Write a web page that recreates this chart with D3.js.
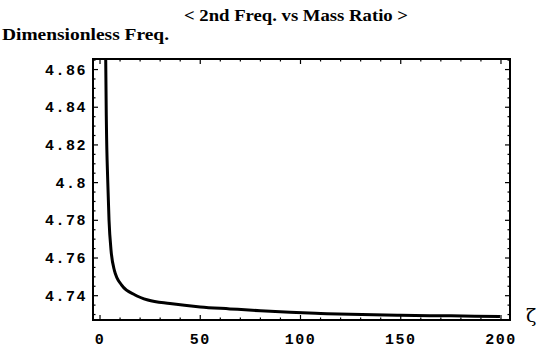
<!DOCTYPE html>
<html>
<head>
<meta charset="utf-8">
<script src="https://cdn.jsdelivr.net/npm/d3@7"></script>
<style>
  body { margin: 0; background: #fff; }
  svg { display: block; }
</style>
</head>
<body>
<div id="chart"></div>
<script>

// values
var massRatio = [2.6, 2.84, 3.2, 3.84, 4.49, 5.49, 7.13, 10.8, 17.5, 23.9, 34.9, 50, 64.8, 80, 94.8, 110, 124.7, 150, 175, 199.5];
var freq      = [4.92, 4.8656, 4.83, 4.8014, 4.7802, 4.7642, 4.7536, 4.7456, 4.7404, 4.7377, 4.7358, 4.7340, 4.7330, 4.7320, 4.7312, 4.7306, 4.7301, 4.7296, 4.7293, 4.7290];

var xTicks = [0, 50, 100, 150, 200];
var yTicks = [4.74, 4.76, 4.78, 4.8, 4.82, 4.84, 4.86];

var svgWidth = 537, svgHeight = 354;
var plotLeft = 93, plotRight = 510, plotTop = 59, plotBottom = 320;

var svg = d3.select("#chart").append("svg")
  .attr("width", svgWidth)
  .attr("height", svgHeight);

var x = d3.scaleLinear().domain([-3.5, 204.5]).range([plotLeft, plotRight]);
var y = d3.scaleLinear().domain([4.7271, 4.8656]).range([plotBottom, plotTop]);

// title and axis labels
svg.append("text")
  .attr("x", 296).attr("y", 21)
  .attr("text-anchor", "middle")
  .style("font", "bold 17px 'Liberation Serif'")
  .attr("textLength", 224)
  .attr("lengthAdjust", "spacingAndGlyphs")
  .text("< 2nd Freq. vs Mass Ratio >");

svg.append("text")
  .attr("x", 2).attr("y", 40)
  .style("font", "bold 17px 'Liberation Serif'")
  .attr("textLength", 167)
  .attr("lengthAdjust", "spacingAndGlyphs")
  .text("Dimensionless Freq.");

svg.append("text")
  .attr("x", 526).attr("y", 322)
  .style("font", "19px 'DejaVu Serif'")
  .text("ζ");

// curve, clipped to the frame
svg.append("clipPath").attr("id", "clip")
  .append("rect")
  .attr("x", plotLeft).attr("y", plotTop)
  .attr("width", plotRight - plotLeft).attr("height", plotBottom - plotTop);

var line = d3.line()
  .x(function(d, i) { return x(massRatio[i]); })
  .y(function(d) { return y(d); })
  .curve(d3.curveMonotoneX);

svg.append("path")
  .datum(freq)
  .attr("clip-path", "url(#clip)")
  .attr("fill", "none")
  .attr("stroke", "#000")
  .attr("stroke-width", 3)
  .attr("d", line);

// frame ticks, inward on all four sides
var xMinor = d3.range(0, 201, 10);
var yMinor = d3.range(0, 28).map(function(i) { return +(4.73 + i * 0.005).toFixed(3); })
  .filter(function(v) { return v >= 4.7271 && v <= 4.8656; });

function tickLen(isMajor) { return isMajor ? 5 : 2.5; }

var g = svg.append("g").attr("stroke", "#000").attr("stroke-width", 1.2);

xMinor.forEach(function(v) {
  var len = tickLen(xTicks.indexOf(v) >= 0);
  g.append("line").attr("x1", x(v)).attr("x2", x(v)).attr("y1", plotBottom).attr("y2", plotBottom - len);
  g.append("line").attr("x1", x(v)).attr("x2", x(v)).attr("y1", plotTop).attr("y2", plotTop + len);
});
yMinor.forEach(function(v) {
  var major = yTicks.some(function(t) { return Math.abs(t - v) < 1e-6; });
  var len = tickLen(major);
  g.append("line").attr("x1", plotLeft).attr("x2", plotLeft + len).attr("y1", y(v)).attr("y2", y(v));
  g.append("line").attr("x1", plotRight).attr("x2", plotRight - len).attr("y1", y(v)).attr("y2", y(v));
});

svg.append("rect")
  .attr("x", plotLeft).attr("y", plotTop)
  .attr("width", plotRight - plotLeft).attr("height", plotBottom - plotTop)
  .attr("fill", "none")
  .attr("stroke", "#000")
  .attr("stroke-width", 2);

// tick labels
var labelFont = "bold 15px 'Liberation Mono'";

svg.selectAll(".xlab")
  .data(xTicks)
  .enter().append("text")
  .attr("class", "xlab")
  .attr("x", function(d) { return x(d); })
  .attr("y", 344)
  .attr("text-anchor", "middle")
  .style("font", labelFont)
  .style("letter-spacing", "1.5px")
  .text(function(d) { return d; });

svg.selectAll(".ylab")
  .data(yTicks)
  .enter().append("text")
  .attr("class", "ylab")
  .attr("x", 87)
  .attr("y", function(d) { return y(d) + 5; })
  .attr("text-anchor", "end")
  .style("font", labelFont)
  .style("letter-spacing", "1.5px")
  .text(function(d) { return d3.format("")(d); });

</script>
</body>
</html>
